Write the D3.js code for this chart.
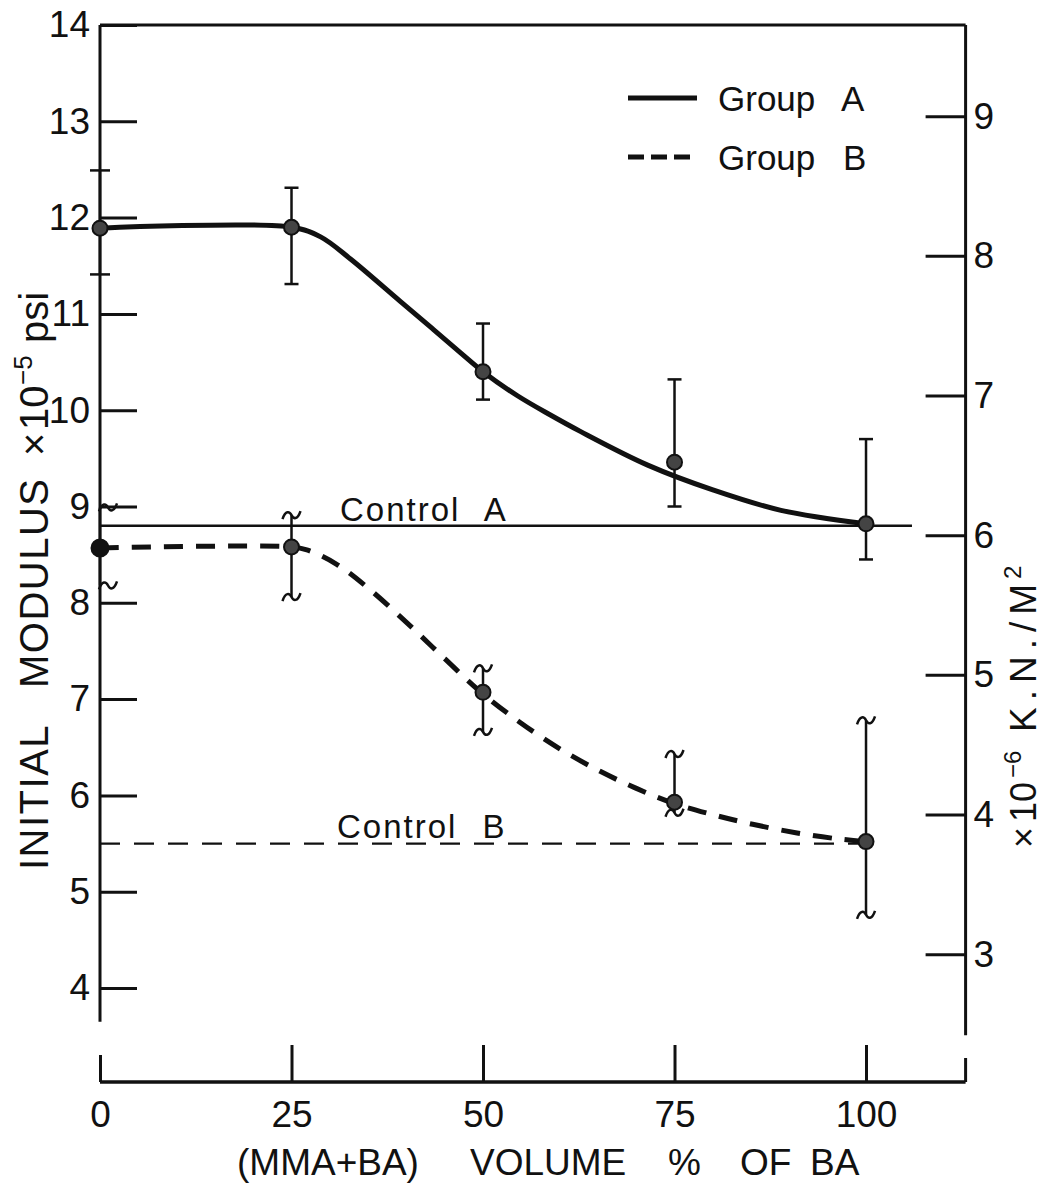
<!DOCTYPE html>
<html>
<head>
<meta charset="utf-8">
<script src="https://cdn.jsdelivr.net/npm/d3@7"></script>
<style>
  body { margin: 0; background: #fff; }
  text { font-family: "Liberation Sans", Arial, sans-serif; fill: #111; }
</style>
</head>
<body>
<svg id="chart" width="1044" height="1188"></svg>
<script>
// measured points (volume % of BA)
const pctBA = [0, 25, 50, 75, 100];

const groupA   = [11.89, 11.90, 10.40, 9.46, 8.82];
const groupAHi = [12.49, 12.31, 10.90, 10.32, 9.70];
const groupALo = [11.41, 11.31, 10.11, 9.00, 8.45];

const groupB   = [8.57, 8.58, 7.07, 5.93, 5.52];
const groupBHi = [8.99, 8.91, 7.32, 6.43, 6.78];
const groupBLo = [8.18, 8.06, 6.66, 5.82, 4.76];

// hand drawn fitted curves
const curveAx = [0, 25, 28.8, 32.7, 39.2, 43.5, 47, 50, 54.5, 58.8, 62.7, 71.5, 80.1, 88.9, 100];
const curveAy = [11.89, 11.90, 11.80, 11.57, 11.13, 10.84, 10.60, 10.40, 10.15, 9.95, 9.78, 9.43, 9.17, 8.96, 8.82];
const curveBx = [0, 25, 27, 30.9, 35.2, 40.5, 45, 49.6, 54.8, 60.1, 65.3, 70.1, 74.8, 80, 85.2, 91, 96.2, 100];
const curveBy = [8.57, 8.58, 8.55, 8.40, 8.14, 7.76, 7.42, 7.08, 6.76, 6.48, 6.25, 6.07, 5.92, 5.80, 5.70, 5.61, 5.55, 5.52];

const controlA = 8.80;
const controlB = 5.50;

const xTicks = [0, 25, 50, 75, 100];
const leftTicks = [4, 5, 6, 7, 8, 9, 10, 11, 12, 13, 14];
const rightTicks = [3, 4, 5, 6, 7, 8, 9];
const psiToKN = 0.6895; // 10^5 psi -> 10^6 kN/m2

const svg = d3.select("#chart");

const x = d3.scaleLinear().domain([0, 113]).range([100, 965.6]);
const y = d3.scaleLinear().domain([4, 14]).range([988, 25]);
const yR = d3.scaleLinear().domain([4 * psiToKN, 14 * psiToKN]).range([988, 25]);

// frame
svg.append("line")
  .attr("x1", x(0)).attr("x2", x(113))
  .attr("y1", y(14)).attr("y2", y(14))
  .attr("stroke", "#111").attr("stroke-width", 3);
svg.append("line")
  .attr("x1", x(0)).attr("x2", x(0))
  .attr("y1", y(14)).attr("y2", y(3.65))
  .attr("stroke", "#111").attr("stroke-width", 3);
svg.append("line")
  .attr("x1", x(113)).attr("x2", x(113))
  .attr("y1", y(14)).attr("y2", y(3.51))
  .attr("stroke", "#111").attr("stroke-width", 3);

// left axis
const leftAxis = svg.append("g")
  .attr("transform", `translate(${x(0)},0)`)
  .call(d3.axisLeft(y).tickValues(leftTicks).tickSize(-37).tickPadding(10).tickFormat(d3.format("d")));
leftAxis.select(".domain").remove();

// right axis
const rightAxis = svg.append("g")
  .attr("transform", `translate(${x(113)},0)`)
  .call(d3.axisRight(yR).tickValues(rightTicks).tickSize(-40).tickPadding(8).tickFormat(d3.format("d")));
rightAxis.select(".domain").remove();

// bottom axis
const bottomY = 1082;
const bottomAxis = svg.append("g")
  .attr("transform", `translate(0,${bottomY})`)
  .call(d3.axisBottom(x).tickValues(xTicks).tickSize(-37).tickSizeOuter(0).tickPadding(19));
bottomAxis.select(".domain").remove();
bottomAxis.append("line")
  .attr("x1", x(0)).attr("x2", x(113))
  .attr("stroke", "#111").attr("stroke-width", 3.5);
bottomAxis.append("line")
  .attr("x1", x(113)).attr("x2", x(113)).attr("y2", -24)
  .attr("stroke", "#111").attr("stroke-width", 3);
bottomAxis.selectAll(".tick line").filter(d => d === 0).attr("y2", -27);

svg.selectAll(".tick line").attr("stroke", "#111").attr("stroke-width", 3);
svg.selectAll(".tick text").attr("font-size", 37).attr("fill", "#111")
  .style("font-family", "'Liberation Sans', Arial, sans-serif");

// control lines
svg.append("line")
  .attr("x1", x(0)).attr("x2", x(106))
  .attr("y1", y(controlA)).attr("y2", y(controlA))
  .attr("stroke", "#111").attr("stroke-width", 2.5);
svg.append("line")
  .attr("x1", x(0)).attr("x2", x(100))
  .attr("y1", y(controlB)).attr("y2", y(controlB))
  .attr("stroke", "#111").attr("stroke-width", 2.2)
  .attr("stroke-dasharray", "20,14");

// fitted curves
const line = d3.line()
  .x(d => x(d[0]))
  .y(d => y(d[1]))
  .curve(d3.curveCatmullRom.alpha(0.5));

svg.append("path")
  .datum(d3.zip(curveAx, curveAy))
  .attr("d", line)
  .attr("fill", "none").attr("stroke", "#111").attr("stroke-width", 5);

svg.append("path")
  .datum(d3.zip(curveBx, curveBy))
  .attr("d", line)
  .attr("fill", "none").attr("stroke", "#111").attr("stroke-width", 5)
  .attr("stroke-dasharray", "19,13");

// error bars
const barsA = pctBA.map((p, i) => ({ p, lo: groupALo[i], hi: groupAHi[i] }));
const barsB = pctBA.map((p, i) => ({ p, lo: groupBLo[i], hi: groupBHi[i] }));

svg.selectAll(".errA")
  .data(barsA)
  .enter()
  .append("line")
  .attr("class", "errA")
  .attr("x1", d => x(d.p)).attr("x2", d => x(d.p))
  .attr("y1", d => y(d.lo)).attr("y2", d => y(d.hi))
  .attr("stroke", "#111").attr("stroke-width", 2.5);

svg.selectAll(".capA")
  .data(barsA.flatMap(d => [{ p: d.p, v: d.lo }, { p: d.p, v: d.hi }]))
  .enter()
  .append("line")
  .attr("class", "capA")
  .attr("x1", d => x(d.p) - (d.p === 0 ? 10 : 7)).attr("x2", d => x(d.p) + (d.p === 0 ? 10 : 7))
  .attr("y1", d => y(d.v)).attr("y2", d => y(d.v))
  .attr("stroke", "#111").attr("stroke-width", 2.5);

svg.selectAll(".errB")
  .data(barsB)
  .enter()
  .append("line")
  .attr("class", "errB")
  .attr("x1", d => x(d.p)).attr("x2", d => x(d.p))
  .attr("y1", d => y(d.lo)).attr("y2", d => y(d.hi))
  .attr("stroke", "#111").attr("stroke-width", 2.5);

// squiggle caps on group B bars
svg.selectAll(".capB")
  .data(barsB.flatMap(d => [{ p: d.p, v: d.lo }, { p: d.p, v: d.hi }]))
  .enter()
  .append("path")
  .attr("class", "capB")
  .attr("transform", d => `translate(${x(d.p) + (d.p === 0 ? 8 : 0)},${y(d.v)})`)
  .attr("d", "M-9,4 C-6,-5 -2,-4 0,0 S6,5 9,-4")
  .attr("fill", "none").attr("stroke", "#111").attr("stroke-width", 2.5);

// points
svg.selectAll(".ptA")
  .data(d3.zip(pctBA, groupA))
  .enter()
  .append("circle")
  .attr("class", "ptA")
  .attr("cx", d => x(d[0])).attr("cy", d => y(d[1]))
  .attr("r", 7.5)
  .attr("fill", "#444").attr("stroke", "#111").attr("stroke-width", 2);

svg.selectAll(".ptB")
  .data(d3.zip(pctBA, groupB))
  .enter()
  .append("circle")
  .attr("class", "ptB")
  .attr("cx", d => x(d[0])).attr("cy", d => y(d[1]))
  .attr("r", d => d[0] === 0 ? 8.5 : 7.5)
  .attr("fill", d => d[0] === 0 ? "#111" : "#444").attr("stroke", "#111").attr("stroke-width", 2);

// control labels
svg.append("text")
  .attr("x", 340).attr("y", y(controlA) - 5)
  .attr("font-size", 33).attr("letter-spacing", 2).attr("word-spacing", 14)
  .text("Control A");
svg.append("text")
  .attr("x", 337).attr("y", y(controlB) - 6)
  .attr("font-size", 33).attr("letter-spacing", 2).attr("word-spacing", 14)
  .text("Control B");

// legend
const legend = svg.append("g");
legend.append("line")
  .attr("x1", 628).attr("x2", 697).attr("y1", 98).attr("y2", 98)
  .attr("stroke", "#111").attr("stroke-width", 5);
legend.append("line")
  .attr("x1", 628).attr("x2", 690).attr("y1", 157).attr("y2", 157)
  .attr("stroke", "#111").attr("stroke-width", 5)
  .attr("stroke-dasharray", "16,7");
legend.append("text")
  .attr("x", 718).attr("y", 111)
  .attr("font-size", 35).attr("word-spacing", 18)
  .text("Group A");
legend.append("text")
  .attr("x", 718).attr("y", 170)
  .attr("font-size", 35).attr("word-spacing", 18)
  .text("Group B");

// x axis title, words spread like the original lettering
const xTitleWords = ["(MMA+BA)", "VOLUME", "%", "OF", "BA"];
const xTitleStarts = [237, 470, 668, 740, 810];
svg.selectAll(".xtitle")
  .data(xTitleWords)
  .enter()
  .append("text")
  .attr("class", "xtitle")
  .attr("x", (d, i) => xTitleStarts[i]).attr("y", 1175)
  .attr("font-size", 37)
  .text(d => d);

// left title, rotated pieces (start position measured upward from the bottom)
const leftTitleParts = ["INITIAL", "MODULUS", "\u00d7", "10", "\u22125", "psi"];
const leftTitleStarts = [870, 688, 456, 430, 385, 343];
const leftTitleSizes = [40, 40, 40, 40, 26, 40];
const leftTitleShift = [0, 0, 0, 0, -16, 0];
svg.selectAll(".ltitle")
  .data(leftTitleParts)
  .enter()
  .append("text")
  .attr("class", "ltitle")
  .attr("transform", (d, i) => `translate(${48 + leftTitleShift[i]},${leftTitleStarts[i]}) rotate(-90)`)
  .attr("font-size", (d, i) => leftTitleSizes[i])
  .attr("letter-spacing", (d, i) => i < 2 ? 1.5 : 0)
  .text(d => d);

// right title
const rightTitleParts = ["\u00d7", "10", "\u22126", "K.N./M", "2"];
const rightTitleStarts = [848, 822, 778, 732, 579];
const rightTitleSizes = [36, 36, 24, 37, 24];
const rightTitleShift = [0, 0, -15, 0, -15];
svg.selectAll(".rtitle")
  .data(rightTitleParts)
  .enter()
  .append("text")
  .attr("class", "rtitle")
  .attr("transform", (d, i) => `translate(${1036 + rightTitleShift[i]},${rightTitleStarts[i]}) rotate(-90)`)
  .attr("font-size", (d, i) => rightTitleSizes[i])
  .attr("letter-spacing", (d, i) => i === 3 ? 7 : 0)
  .text(d => d);
</script>
</body>
</html>
